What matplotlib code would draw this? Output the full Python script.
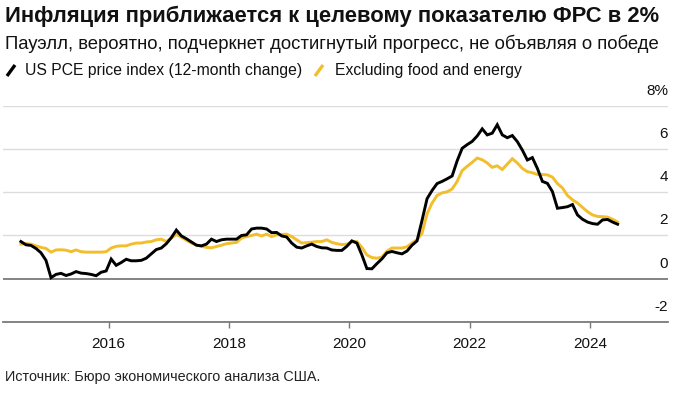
import matplotlib
matplotlib.use("Agg")
import matplotlib.pyplot as plt
from matplotlib.lines import Line2D
import numpy as np

# ---- data (monthly, Jul 2014 - Jun 2024) ----
start_year = 2014
start_month = 7
pce_headline = [
    1.72, 1.57, 1.54, 1.40, 1.20, 0.85,                                  # 2014 Jul-Dec
    0.05, 0.20, 0.25, 0.15, 0.22, 0.33, 0.26, 0.24, 0.20, 0.14, 0.30, 0.36,  # 2015
    0.91, 0.62, 0.75, 0.90, 0.83, 0.83, 0.85, 0.95, 1.15, 1.35, 1.42, 1.62,  # 2016
    1.90, 2.25, 1.98, 1.85, 1.70, 1.55, 1.52, 1.60, 1.83, 1.72, 1.80, 1.83,  # 2017
    1.83, 1.83, 2.00, 2.03, 2.30, 2.34, 2.34, 2.30, 2.13, 2.14, 1.98, 1.93,  # 2018
    1.65, 1.46, 1.42, 1.52, 1.60, 1.49, 1.43, 1.42, 1.33, 1.31, 1.31, 1.50,  # 2019
    1.75, 1.65, 1.10, 0.47, 0.46, 0.70, 0.92, 1.20, 1.26, 1.20, 1.15, 1.28,  # 2020
    1.55, 1.75, 2.70, 3.70, 4.08, 4.40, 4.50, 4.62, 4.75, 5.45, 6.03, 6.20,  # 2021
    6.35, 6.60, 6.93, 6.65, 6.73, 7.12, 6.65, 6.52, 6.62, 6.34, 5.95, 5.49,  # 2022
    5.60, 5.10, 4.50, 4.41, 4.03, 3.26, 3.29, 3.33, 3.43, 2.95, 2.75, 2.62,  # 2023
    2.55, 2.52, 2.72, 2.74, 2.62, 2.52,                                  # 2024 Jan-Jun
]
pce_core = [
    1.60, 1.63, 1.60, 1.52, 1.45, 1.40,
    1.23, 1.33, 1.34, 1.32, 1.25, 1.33, 1.25, 1.23, 1.23, 1.23, 1.23, 1.25,
    1.42, 1.50, 1.52, 1.52, 1.60, 1.65, 1.65, 1.70, 1.72, 1.80, 1.83, 1.72,
    1.88, 2.05, 1.92, 1.78, 1.65, 1.57, 1.50, 1.45, 1.43, 1.49, 1.55, 1.62,
    1.65, 1.68, 1.88, 1.95, 2.00, 2.06, 1.98, 2.06, 1.95, 2.03, 2.05, 2.06,
    1.95, 1.80, 1.65, 1.67, 1.69, 1.72, 1.72, 1.80, 1.68, 1.62, 1.58, 1.60,
    1.70, 1.72, 1.45, 1.10, 0.98, 0.95, 1.00, 1.28, 1.42, 1.42, 1.42, 1.48,
    1.65, 1.80, 2.10, 3.00, 3.50, 3.85, 3.97, 4.02, 4.15, 4.50, 5.00, 5.20,
    5.38, 5.58, 5.50, 5.35, 5.15, 5.22, 5.05, 5.30, 5.55, 5.35, 5.10, 4.95,
    4.90, 4.82, 4.82, 4.80, 4.70, 4.40, 4.20, 3.85, 3.65, 3.50, 3.30, 3.10,
    2.95, 2.88, 2.87, 2.85, 2.75, 2.62,
]
year_ticks = [2016, 2018, 2020, 2022, 2024]
y_ticks = [-2, 0, 2, 4, 6, 8]
y_tick_labels = ["-2", "0", "2", "4", "6", "8%"]

title = "Инфляция приближается к целевому показателю ФРС в 2%"
subtitle = "Пауэлл, вероятно, подчеркнет достигнутый прогресс, не объявляя о победе"
legend_labels = ["US PCE price index (12-month change)", "Excluding food and energy"]
source = "Источник: Бюро экономического анализа США."

# ---- layout ----
W, H = 686, 396
plt.rcParams['font.family'] = ['Liberation Sans', 'DejaVu Sans']
fig = plt.figure(figsize=(W / 100, H / 100), dpi=100)

def fx(px):
    return px / W

def fy(py):
    return 1 - py / H

BLACK = "#000000"
YELLOW = "#F2BE2C"
TXT = "#111111"

ax = fig.add_axes([fx(3), fy(322), fx(668) - fx(3), fy(105.7) - fy(322)])

n = len(pce_headline)
months = np.arange(n) + (start_month - 1)
t = start_year + (months + 0.5) / 12.0

ax.plot(t, pce_core, color=YELLOW, lw=2.1, solid_joinstyle='miter', zorder=3)
ax.plot(t, pce_headline, color=BLACK, lw=2.1, solid_joinstyle='miter', zorder=4)

ax.set_xlim(2014.244, 2025.296)
ax.set_ylim(-2, 8)

for s in ax.spines.values():
    s.set_visible(False)
ax.spines['bottom'].set_visible(True)
ax.spines['bottom'].set_color('#7a7a7a')
ax.spines['bottom'].set_linewidth(1.3)

for v in y_ticks[1:]:
    if v == 0:
        ax.axhline(v, color='#7a7a7a', lw=1.3, zorder=2)
    else:
        ax.axhline(v, color='#dcdcdc', lw=1.0, zorder=1)

ax.set_yticks([])
ax.set_xticks(year_ticks)
ax.set_xticklabels([str(y) for y in year_ticks], fontsize=11)
ax.tick_params(axis='x', length=4, width=1, color='#7a7a7a', pad=7, labelcolor=TXT)

for v, lab in zip(y_ticks, y_tick_labels):
    ax.annotate(lab, xy=(1.0, v), xycoords=('axes fraction', 'data'),
                xytext=(0, 8), textcoords='offset points',
                ha='right', va='baseline', fontsize=11, color=TXT)

# ---- texts ----
fig.text(fx(5), fy(16), title, fontsize=15.8, fontweight='bold', va='center', ha='left', color=TXT)
fig.text(fx(5), fy(44), subtitle, fontsize=13.3, va='center', ha='left', color=TXT)

fig.add_artist(Line2D([fx(7), fx(15)], [fy(76), fy(65)], color=BLACK, lw=2.4, solid_capstyle='butt'))
fig.text(fx(25), fy(70.5), legend_labels[0], fontsize=11.3, va='center', ha='left', color=TXT)
fig.add_artist(Line2D([fx(315), fx(323)], [fy(76), fy(65)], color=YELLOW, lw=2.4, solid_capstyle='butt'))
fig.text(fx(335), fy(70.5), legend_labels[1], fontsize=11.3, va='center', ha='left', color=TXT)

fig.text(fx(5), fy(377), source, fontsize=10.4, va='center', ha='left', color='#222222')

fig.savefig("out.png", dpi=100)
